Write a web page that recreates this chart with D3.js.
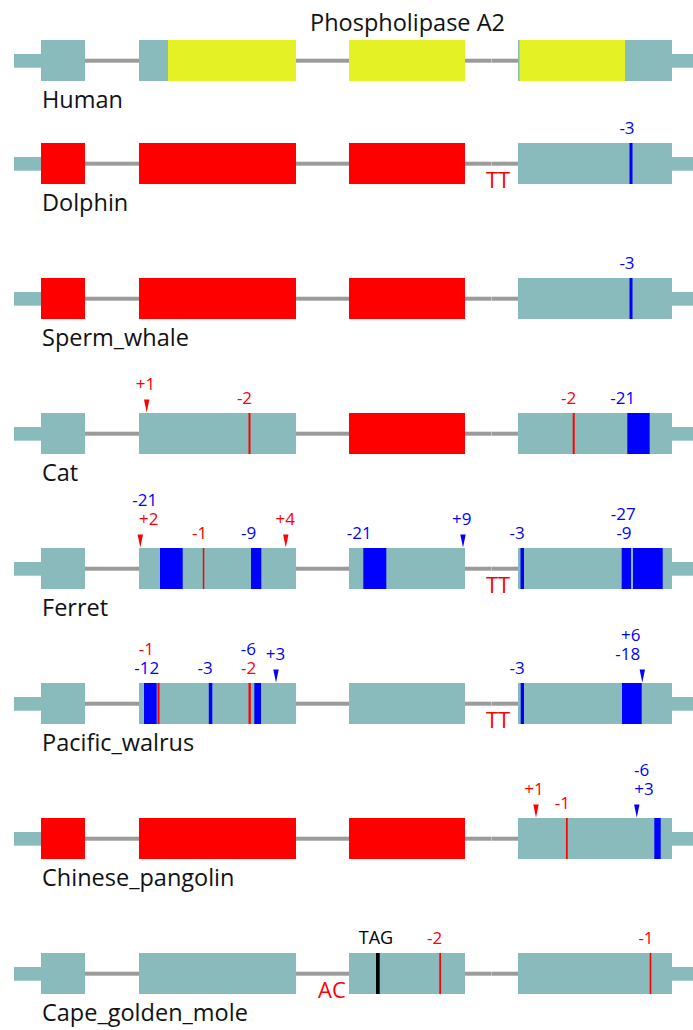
<!DOCTYPE html>
<html>
<head>
<meta charset="utf-8">
<script src="https://cdn.jsdelivr.net/npm/d3@7"></script>
<style>
  html, body { margin: 0; padding: 0; background: #fff; }
  svg { display: block; }
  text { font-family: "Open Sans", "Noto Sans", sans-serif; }
</style>
</head>
<body>
<div id="chart"></div>
<script>
// Gene structure of Phospholipase A2 across species (alignment coordinates)
const species = ["Human", "Dolphin", "Sperm_whale", "Cat", "Ferret",
                 "Pacific_walrus", "Chinese_pangolin", "Cape_golden_mole"];
const utrSpans = [[0, 27], [658, 680]];
const exonSpans = [[27, 71], [125, 282], [335, 451], [504, 658]];
const intronBreak = 477.6;                       // split in the third intron
const humanCoding = [[154, 282], [335, 451], [505.5, 611]];
// exons lost (index into exonSpans) for each species
const lostExons = [[], [0, 1, 2], [0, 1, 2], [2], [], [], [0, 1, 2], []];

// mutations: [row, kind, start, end, colour]  (tri: insertion point)
const mutations = [
  [1, "bar", 615.5, 618.5, "blue"],
  [2, "bar", 615.5, 618.5, "blue"],
  [3, "tri", 132.7, null, "red"],
  [3, "bar", 234.5, 236.5, "red"],
  [3, "bar", 558.7, 560.7, "red"],
  [3, "bar", 613.3, 635.7, "blue"],
  [4, "tri", 126.3, null, "red"],
  [4, "bar", 146, 168.7, "blue"],
  [4, "bar", 188.8, 190.3, "red"],
  [4, "bar", 237, 247.3, "blue"],
  [4, "tri", 271.8, null, "red"],
  [4, "bar", 349.3, 372.3, "blue"],
  [4, "tri", 449, null, "blue"],
  [4, "bar", 506.5, 510, "blue"],
  [4, "bar", 607.7, 617, "blue"],
  [4, "bar", 619, 648.7, "blue"],
  [5, "bar", 130, 142.7, "blue"],
  [5, "bar", 143.5, 145.5, "red"],
  [5, "bar", 194.8, 198.3, "blue"],
  [5, "bar", 234.5, 236.8, "red"],
  [5, "bar", 240.3, 247, "blue"],
  [5, "tri", 262, null, "blue"],
  [5, "bar", 506.7, 510, "blue"],
  [5, "bar", 608, 627.7, "blue"],
  [5, "tri", 628.3, null, "blue"],
  [6, "tri", 522, null, "red"],
  [6, "bar", 552, 553.7, "red"],
  [6, "tri", 622.8, null, "blue"],
  [6, "bar", 640.3, 646.7, "blue"],
  [7, "bar", 362, 365.7, "black"],
  [7, "bar", 425.3, 427, "red"],
  [7, "bar", 635.7, 637.3, "red"]
];

// mutation labels: [row, text, colour, centre, base ("bar" | "tri"), stack level]
const mutationLabels = [
  [1, "-3", "blue", 613, "bar", 0],
  [2, "-3", "blue", 613, "bar", 0],
  [3, "+1", "red", 131.5, "tri", 0],
  [3, "-2", "red", 230.5, "bar", 0],
  [3, "-2", "red", 554.7, "bar", 0],
  [3, "-21", "blue", 608.7, "bar", 0],
  [4, "+2", "red", 134.7, "tri", 0],
  [4, "-21", "blue", 130.7, "tri", 1],
  [4, "-1", "red", 185.7, "bar", 0],
  [4, "-9", "blue", 234.7, "bar", 0],
  [4, "+4", "red", 271.3, "tri", 0],
  [4, "-21", "blue", 345.2, "bar", 0],
  [4, "+9", "blue", 447.7, "tri", 0],
  [4, "-3", "blue", 503.2, "bar", 0],
  [4, "-9", "blue", 610, "bar", 0],
  [4, "-27", "blue", 609.3, "bar", 1],
  [5, "-12", "blue", 132.7, "bar", 0],
  [5, "-1", "red", 132.3, "bar", 1],
  [5, "-3", "blue", 191.2, "bar", 0],
  [5, "-2", "red", 234.7, "bar", 0],
  [5, "-6", "blue", 234.3, "bar", 1],
  [5, "+3", "blue", 261.5, "tri", 0],
  [5, "-3", "blue", 503.2, "bar", 0],
  [5, "-18", "blue", 613.7, "tri", 0],
  [5, "+6", "blue", 616.8, "tri", 1],
  [6, "+1", "red", 520, "tri", 0],
  [6, "-1", "red", 548.3, "bar", 0],
  [6, "+3", "blue", 630, "tri", 0],
  [6, "-6", "blue", 627.7, "tri", 1],
  [7, "TAG", "black", 362, "bar", 0],
  [7, "-2", "red", 420.7, "bar", 0],
  [7, "-1", "red", 632, "bar", 0]
];

// splice-site notes drawn under introns: [row, text, centre]
const intronNotes = [[1, "TT", 484], [4, "TT", 484], [5, "TT", 484], [7, "AC", 318]];

const title = "Phospholipase A2";

// ---- layout ----
const W = 693, H = 1030;
const colors = { utr: "#89bbbc", coding: "#e4f225", lost: "#ff0000", intron: "#9b9b9b",
                 red: "#ff0000", blue: "#0000ff", black: "#000000" };
const exonH = 41, utrTop = 14, utrH = 13.7, intronY = 20.7, intronW = 4;

const x = d3.scaleLinear().domain([0, 680]).range([14, 694]);
const rowY = d3.scalePoint().domain(species.slice(1)).range([143, 953]);
const rowTop = i => (i === 0 ? 40 : rowY(species[i]));

const svg = d3.select("#chart").append("svg").attr("width", W).attr("height", H);

svg.append("text")
  .attr("x", 407.5).attr("y", 31)
  .attr("text-anchor", "middle")
  .attr("font-size", 23.5).attr("fill", "#111")
  .text(title);

const rows = svg.selectAll("g.row").data(species).join("g")
  .attr("class", "row")
  .attr("transform", (d, i) => `translate(0,${rowTop(i)})`);

// introns
const introns = [];
for (let k = 0; k < exonSpans.length - 1; k++) {
  const a = exonSpans[k][1], b = exonSpans[k + 1][0];
  if (a < intronBreak && intronBreak < b) {
    introns.push([a, intronBreak - 0.15], [intronBreak + 0.15, b]);
  } else introns.push([a, b]);
}
rows.selectAll("rect.intron").data(introns).join("rect")
  .attr("class", "intron")
  .attr("x", d => x(d[0])).attr("width", d => x(d[1]) - x(d[0]))
  .attr("y", intronY - intronW / 2).attr("height", intronW)
  .attr("fill", colors.intron);

// untranslated flanks
rows.selectAll("rect.utr").data(utrSpans).join("rect")
  .attr("class", "utr")
  .attr("x", d => x(d[0])).attr("width", d => x(d[1]) - x(d[0]))
  .attr("y", utrTop).attr("height", utrH)
  .attr("fill", colors.utr);

// exons
rows.each(function (name, i) {
  const g = d3.select(this);
  g.selectAll("rect.exon").data(exonSpans).join("rect")
    .attr("class", "exon")
    .attr("x", d => x(d[0])).attr("width", d => x(d[1]) - x(d[0]))
    .attr("y", 0).attr("height", exonH)
    .attr("fill", (d, k) => lostExons[i].includes(k) ? colors.lost : colors.utr);
  if (i === 0) {
    g.selectAll("rect.cds").data(humanCoding).join("rect")
      .attr("class", "cds")
      .attr("x", d => x(d[0])).attr("width", d => x(d[1]) - x(d[0]))
      .attr("y", 0).attr("height", exonH)
      .attr("fill", colors.coding);
  }
  // species name
  g.append("text")
    .attr("x", 42).attr("y", exonH + 27)
    .attr("font-size", 23.5).attr("fill", "#111")
    .text(name);
});

// mutation bars and insertion triangles
const layer = svg.append("g");
mutations.forEach(([r, kind, s, e, c]) => {
  const t = rowTop(r);
  if (kind === "bar") {
    layer.append("rect")
      .attr("x", x(s)).attr("width", x(e) - x(s))
      .attr("y", t).attr("height", exonH)
      .attr("fill", colors[c]);
  } else {
    const cx = x(s);
    layer.append("path")
      .attr("d", `M${cx - 2.7},${t - 13.5}L${cx + 2.7},${t - 13.5}L${cx},${t - 0.5}Z`)
      .attr("fill", colors[c]);
  }
});

// mutation labels
const baseRise = { bar: 9, tri: 22.7 }, stackStep = 19.3;
mutationLabels.forEach(([r, txt, c, at, base, lvl]) => {
  layer.append("text")
    .attr("x", x(at)).attr("y", rowTop(r) - baseRise[base] - lvl * stackStep)
    .attr("text-anchor", "middle")
    .attr("font-size", txt === "TAG" ? 18 : 17)
    .attr("fill", colors[c])
    .text(txt);
});

// splice-site notes
intronNotes.forEach(([r, txt, at]) => {
  layer.append("text")
    .attr("x", x(at)).attr("y", rowTop(r) + 44.5)
    .attr("text-anchor", "middle")
    .attr("font-size", 22).attr("fill", colors.red)
    .text(txt);
});
</script>
</body>
</html>
